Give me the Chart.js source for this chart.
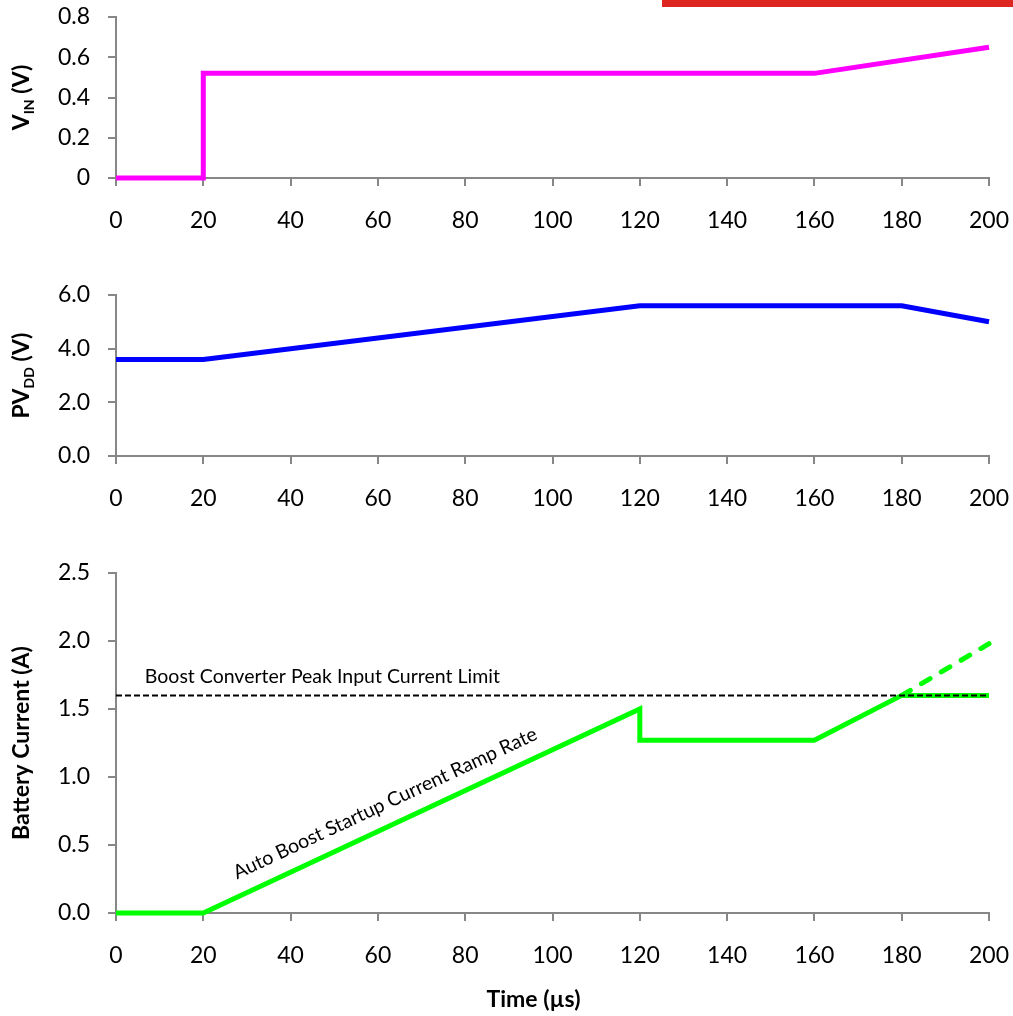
<!DOCTYPE html>
<html lang="en">
<head>
  <meta charset="UTF-8" />
  <title>Auto Boost Startup</title>
  <script src="https://cdn.jsdelivr.net/npm/chart.js"></script>
  <style>
    body {
      margin: 0;
      background: #fff;
      overflow: hidden;
      font-family: Lato, sans-serif;
    }
    .panel {
      position: absolute;
      left: 0;
      width: 1013px;
    }
    #redBar {
      position: absolute;
      left: 662px;
      top: 0;
      width: 351px;
      height: 7px;
      background: #dd2620;
      z-index: 5;
    }
  </style>
</head>
<body>

  <div class="panel" style="top:0; height:250px;"><canvas id="vinChart"></canvas></div>
  <div class="panel" style="top:250px; height:280px;"><canvas id="pvddChart"></canvas></div>
  <div class="panel" style="top:530px; height:486px;"><canvas id="battChart"></canvas></div>
  <div id="redBar"></div>

  <script>
    // data (time in µs)
    const xTicks = [0, 20, 40, 60, 80, 100, 120, 140, 160, 180, 200];

    const vinTime = [0, 20, 20, 160, 200];
    const vinVolts = [0, 0, 0.52, 0.52, 0.65];

    const pvddTime = [0, 20, 120, 180, 200];
    const pvddVolts = [3.6, 3.6, 5.6, 5.6, 5.0];

    const battTime = [0, 20, 120, 120, 160, 180, 200];
    const battAmps = [0, 0, 1.5, 1.27, 1.27, 1.6, 1.6];

    const unlimitedTime = [180, 200];
    const unlimitedAmps = [1.6, 1.98];

    const limitTime = [0, 200];
    const limitAmps = [1.6, 1.6];

    const limitLabel = 'Boost Converter Peak Input Current Limit';
    const rampLabel = 'Auto Boost Startup Current Ramp Rate';

    const axisGrey = '#878787';
    const FONT = 'Lato, "Open Sans", sans-serif';
    const TICK_SIZE = 23;

    function pts(xs, ys) {
      return xs.map((x, i) => ({ x: x, y: ys[i] }));
    }

    // rotated y title, parts can be subscripts
    function drawYTitle(ctx, parts, cx, cy) {
      ctx.save();
      ctx.translate(cx, cy);
      ctx.rotate(-Math.PI / 2);
      ctx.fillStyle = '#000';
      ctx.textBaseline = 'middle';
      ctx.textAlign = 'left';
      let total = 0;
      parts.forEach(p => {
        ctx.font = 'bold ' + (p.sub ? 14 : 23) + 'px ' + FONT;
        total += ctx.measureText(p.text).width;
      });
      let x = -total / 2;
      parts.forEach(p => {
        ctx.font = 'bold ' + (p.sub ? 14 : 23) + 'px ' + FONT;
        ctx.fillText(p.text, x, p.sub ? 7 : 0);
        x += ctx.measureText(p.text).width;
      });
      ctx.restore();
    }

    function makeChart(id, datasets, yMin, yMax, yStep, decimals, padTop, xHeight, titleParts, extra) {
      const ctx = document.getElementById(id).getContext('2d');
      return new Chart(ctx, {
        type: 'line',
        data: { datasets: datasets },
        options: {
          responsive: true,
          maintainAspectRatio: false,
          animation: false,
          layout: { padding: { top: padTop, right: 24, left: 0, bottom: 0 } },
          plugins: { legend: { display: false }, tooltip: { enabled: false } },
          elements: { point: { radius: 0 }, line: { tension: 0 } },
          scales: {
            x: {
              type: 'linear',
              min: 0, max: 200,
              afterBuildTicks: s => { s.ticks = xTicks.map(v => ({ value: v })); },
              afterFit: s => { s.height = xHeight; s.paddingLeft = 0; s.paddingRight = 0; },
              grid: { drawOnChartArea: false, tickLength: 8, color: axisGrey, lineWidth: 2 },
              border: { color: axisGrey, width: 2 },
              ticks: { color: '#000', padding: 21, font: { family: FONT, size: TICK_SIZE }, maxRotation: 0 }
            },
            y: {
              min: yMin, max: yMax,
              afterFit: s => { s.width = 116; s.paddingTop = 0; s.paddingBottom = 0; },
              grid: { drawOnChartArea: false, tickLength: 8, color: axisGrey, lineWidth: 2 },
              border: { color: axisGrey, width: 2 },
              ticks: {
                stepSize: yStep,
                color: '#000', padding: 18,
                font: { family: FONT, size: TICK_SIZE },
                callback: v => (v === 0 && decimals === 0) ? '0' : Number(v).toFixed(decimals === 0 ? 1 : decimals)
              }
            }
          }
        },
        plugins: [{
          id: 'titles',
          afterDraw(chart) {
            const a = chart.chartArea;
            drawYTitle(chart.ctx, titleParts, 22, (a.top + a.bottom) / 2);
            if (extra) extra(chart);
          }
        }]
      });
    }

    makeChart('vinChart', [{
      data: pts(vinTime, vinVolts),
      borderColor: '#ff00ff', borderWidth: 5, borderJoinStyle: 'miter', clip: false
    }], 0, 0.8, 0.2, 0, 17, 72,
      [{ text: 'V' }, { text: 'IN', sub: true }, { text: ' (V)' }]);

    makeChart('pvddChart', [{
      data: pts(pvddTime, pvddVolts),
      borderColor: '#0000ff', borderWidth: 5, borderJoinStyle: 'miter', clip: false
    }], 0, 6, 2, 1, 45, 74,
      [{ text: 'PV' }, { text: 'DD', sub: true }, { text: ' (V)' }]);

    makeChart('battChart', [
      {
        data: pts(limitTime, limitAmps),
        borderColor: '#000', borderWidth: 2, borderDash: [6, 3], clip: false
      },
      {
        data: pts(battTime, battAmps),
        borderColor: '#00ff00', borderWidth: 5, borderJoinStyle: 'miter', clip: false
      },
      {
        data: pts(unlimitedTime, unlimitedAmps),
        borderColor: '#00ff00', borderWidth: 5, borderDash: [10, 13], borderCapStyle: 'round', clip: false
      }
    ], 0, 2.5, 0.5, 1, 43, 103,
      [{ text: 'Battery Current (A)' }],
      chart => {
        const c = chart.ctx;
        const xs = chart.scales.x, ys = chart.scales.y;
        c.save();
        c.fillStyle = '#000';
        // x axis title
        c.font = 'bold 23px ' + FONT;
        c.textAlign = 'center';
        c.textBaseline = 'middle';
        c.fillText('Time (µs)', (chart.chartArea.left + chart.chartArea.right) / 2 - 19, 470);
        // limit label
        c.font = '19.5px ' + FONT;
        c.textAlign = 'left';
        c.textBaseline = 'alphabetic';
        c.fillText(limitLabel, xs.getPixelForValue(6.6), ys.getPixelForValue(1.6) - 12);
        // ramp label along the startup ramp
        const x0 = xs.getPixelForValue(battTime[1]), y0 = ys.getPixelForValue(battAmps[1]);
        const x1 = xs.getPixelForValue(battTime[2]), y1 = ys.getPixelForValue(battAmps[2]);
        const ang = Math.atan2(y1 - y0, x1 - x0);
        const t = 0.093;
        c.translate(x0 + (x1 - x0) * t, y0 + (y1 - y0) * t);
        c.rotate(ang);
        c.fillText(rampLabel, 0, -16);
        c.restore();
      });
  </script>

</body>
</html>
